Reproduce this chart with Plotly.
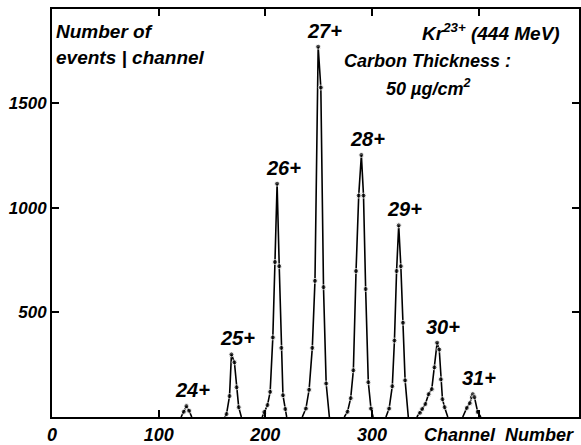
import plotly.graph_objects as go

# ---- data (channel number, events per channel) ----
ch_24 = [121, 123.5, 126, 128.5, 131]
n_24 = [0, 25, 52, 30, 0]

ch_25 = [162, 163.6, 166.4, 168.2, 171, 173, 175, 177.5]
n_25 = [0, 14, 100, 299, 261, 142, 47, 0]

ch_26 = [197, 199, 202, 204.5, 207, 209, 211, 213, 215, 216.5, 218.7, 220]
n_26 = [0, 24, 57, 120, 380, 740, 1114, 720, 330, 104, 38, 0]

ch_27 = [234.6, 238, 241, 244, 246.5, 249.5, 252, 254.5, 257, 260]
n_27 = [0, 40, 130, 330, 650, 1768, 1573, 620, 160, 0]

ch_28 = [274, 277, 280, 282.5, 285, 287.5, 290, 292, 294, 296.5, 299, 301]
n_28 = [0, 25, 90, 223, 697, 1057, 1251, 1057, 611, 166, 40, 0]

ch_29 = [313, 316, 319, 321, 323, 325, 327, 329, 331, 334]
n_29 = [0, 40, 147, 365, 697, 915, 720, 450, 175, 0]

ch_30 = [342, 345, 347, 350, 353, 356, 358.5, 361, 363, 364.5, 366, 368, 371]
n_30 = [0, 20, 38, 62, 109, 133, 237, 355, 322, 180, 85, 47, 0]

ch_31 = [385, 388.8, 391.6, 393.5, 394.4, 396, 399, 402]
n_31 = [0, 43, 66, 95, 109, 95, 24, 0]

peaks = [
    ("24+", ch_24, n_24),
    ("25+", ch_25, n_25),
    ("26+", ch_26, n_26),
    ("27+", ch_27, n_27),
    ("28+", ch_28, n_28),
    ("29+", ch_29, n_29),
    ("30+", ch_30, n_30),
    ("31+", ch_31, n_31),
]

x_ticks = [0, 100, 200, 300]
x_ticklabels = ["0", "100", "200", "300"]
x_extra_ticks = [400]
y_ticks = [500, 1000, 1500]
y_ticklabels = ["500", "1000", "1500"]

FONT = "Liberation Sans"


def ifont(size):
    return dict(family=FONT, size=size, color="black", weight="bold", style="italic")


fig = go.Figure()
for name, ch, n in peaks:
    fig.add_trace(go.Scatter(
        x=ch, y=n, mode="lines+markers", name=name,
        line=dict(color="black", width=1.6),
        marker=dict(color="black", size=[0 if v == 0 else 5 for v in n]),
        showlegend=False, hoverinfo="skip",
    ))
    peak_i = n.index(max(n))
    fig.add_annotation(
        x=ch[peak_i], y=n[peak_i], text=name, showarrow=False,
        yanchor="middle", yshift=16, xshift=6,
        font=ifont(20),
    )


def paper_text(text, x, y, xanchor, size):
    fig.add_annotation(xref="paper", yref="paper", x=x, y=y, xanchor=xanchor,
                       yanchor="middle", showarrow=False, text=text, font=ifont(size))


paper_text("Number of", 0.004, 0.944, "left", 19)
paper_text("events | channel", 0.004, 0.881, "left", 19)
paper_text("Kr<sup>23+</sup> (444 MeV)", 0.968, 0.944, "right", 19)
paper_text("Carbon Thickness :", 0.713, 0.8735, "center", 18)
paper_text("50 µg/cm<sup>2</sup>", 0.713, 0.808, "center", 18)
fig.add_annotation(xref="paper", yref="paper", x=0.995, y=-0.015, xanchor="right", yanchor="top",
                   showarrow=False, text="Channel  Number", font=ifont(18))

axis_common = dict(
    showline=True, linecolor="black", linewidth=2, mirror="ticks",
    ticks="inside", ticklen=7, tickwidth=2, tickcolor="black",
    showgrid=False, zeroline=False,
)
fig.update_layout(
    xaxis=dict(range=[0, 494], tickvals=x_ticks, ticktext=x_ticklabels,
               tickfont=ifont(18), **axis_common),
    xaxis2=dict(range=[0, 494], tickvals=x_extra_ticks, overlaying="x", anchor="y",
                side="bottom", showticklabels=False, **axis_common),
    yaxis=dict(range=[0, 1948], tickvals=y_ticks, ticktext=y_ticklabels,
               tickfont=ifont(17), **axis_common),
    width=581, height=445,
    margin=dict(l=52, r=0, t=9, b=25),
    paper_bgcolor="white", plot_bgcolor="white",
)
# invisible trace to activate the second x axis
fig.add_trace(go.Scatter(x=[0], y=[0], xaxis="x2", mode="markers",
                         marker=dict(size=0, opacity=0), showlegend=False, hoverinfo="skip"))

fig.write_html("out.html")
